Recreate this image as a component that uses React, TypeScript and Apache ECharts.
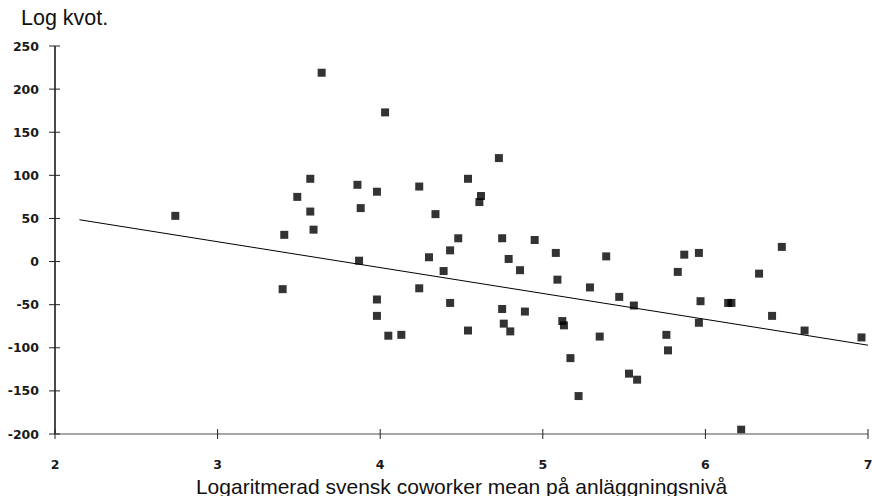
import React, { useEffect, useRef } from "react";
import * as echarts from "echarts";

const xValues = [
  2.74, 3.41, 3.40, 3.49, 3.64, 4.03, 4.73, 3.57, 3.86, 3.98, 4.24, 4.54, 4.62, 4.61,
  3.57, 3.88, 4.34, 3.59, 4.48, 4.75, 4.95, 3.87, 4.30, 4.43, 4.39, 4.79, 4.86, 5.08,
  5.09, 3.98, 3.98, 4.24, 4.43, 4.05, 4.13, 4.54, 4.75, 4.89, 4.76, 4.80, 5.12, 5.13,
  5.17, 5.22, 5.39, 5.29, 5.47, 5.56, 5.35, 5.53, 5.58, 5.87, 5.96, 5.83, 5.97, 5.96,
  5.76, 5.77, 6.14, 6.16, 6.33, 6.47, 6.41, 6.61, 6.96, 6.22,
];
const yValues = [
  53, 31, -32, 75, 219, 173, 120, 96, 89, 81, 87, 96, 76, 69,
  58, 62, 55, 37, 27, 27, 25, 1, 5, 13, -11, 3, -10, 10,
  -21, -44, -63, -31, -48, -86, -85, -80, -55, -58, -72, -81, -69, -74,
  -112, -156, 6, -30, -41, -51, -87, -130, -137, 8, 10, -12, -46, -71,
  -85, -103, -48, -48, -14, 17, -63, -80, -88, -195,
];
const trendX = [2.15, 7];
const trendY = [48.5, -97];
const xTicks = [2, 3, 4, 5, 6, 7];
const yTicks = [-200, -150, -100, -50, 0, 50, 100, 150, 200, 250];

const xTitle = "Logaritmerad svensk coworker mean på anläggningsnivå";
const yTitle = "Log kvot.";

export default function App() {
  const ref = useRef<HTMLDivElement>(null);
  useEffect(() => {
    if (!ref.current) return;
    const chart = echarts.init(ref.current, null, { renderer: "svg" });
    const labelStyle = {
      fontFamily: "DejaVu Sans",
      fontWeight: "bold",
      fontSize: 12.5,
      color: "#1a1a1a",
    };
    const xMin = xTicks[0];
    const xMax = xTicks[xTicks.length - 1];
    const yMin = yTicks[0];
    const yMax = yTicks[yTicks.length - 1];
    chart.setOption({
      animation: false,
      grid: { left: 55, right: 4, top: 46, bottom: 62, outerBoundsMode: "none" },
      xAxis: {
        type: "value",
        min: xMin,
        max: xMax,
        interval: 1,
        splitLine: { show: false },
        axisLine: { show: false, onZero: false },
        axisTick: { show: false },
        axisLabel: { ...labelStyle, margin: 24 },
        name: xTitle,
        nameLocation: "middle",
        nameGap: 37,
        nameTextStyle: { fontFamily: "Liberation Sans", fontSize: 21, color: "#111" },
      },
      yAxis: {
        type: "value",
        min: yMin,
        max: yMax,
        interval: 50,
        splitLine: { show: false },
        axisLine: { show: false, onZero: false },
        axisTick: { show: false },
        axisLabel: { ...labelStyle, margin: 16 },
      },
      series: [
        {
          type: "line",
          data: trendX.map((x, i) => [x, trendY[i]]),
          showSymbol: false,
          symbol: "none",
          lineStyle: { color: "#000", width: 1 },
        },
        {
          type: "scatter",
          data: xValues.map((x, i) => [x, yValues[i]]),
          symbol: "rect",
          symbolSize: 8,
          itemStyle: { color: "#000" },
        },
      ],
    });

    // axis lines and crossing ticks, positioned through the chart's own scales
    const px = (x: number, y: number) => chart.convertToPixel({ gridIndex: 0 }, [x, y]) as number[];
    const graphics: any[] = [
      {
        type: "text",
        left: 21,
        top: 7,
        style: { text: yTitle, fontFamily: "Liberation Sans", fontSize: 21.5, fill: "#111" },
      },
    ];
    const bl = px(xMin, yMin);
    const br = px(xMax, yMin);
    const tl = px(xMin, yMax);
    graphics.push({
      type: "rect",
      z: 50,
      shape: { x: bl[0], y: bl[1] - 0.7, width: br[0] - bl[0], height: 1.4 },
      style: { fill: "#8a8a8a" },
    });
    graphics.push({
      type: "rect",
      z: 50,
      shape: { x: tl[0] - 1, y: tl[1], width: 2, height: bl[1] - tl[1] },
      style: { fill: "#4a4a4a" },
    });
    xTicks.forEach((v) => {
      const p = px(v, yMin);
      graphics.push({
        type: "rect",
        z: 51,
        shape: { x: p[0] - 0.5, y: p[1] - 5, width: 1, height: 10 },
        style: { fill: "#222" },
      });
    });
    yTicks.forEach((v) => {
      const p = px(xMin, v);
      graphics.push({
        type: "rect",
        z: 51,
        shape: { x: p[0] - 6, y: p[1] - 0.5, width: 11, height: 1 },
        style: { fill: "#222" },
      });
    });
    chart.setOption({ graphic: graphics });
    return () => chart.dispose();
  }, []);
  return <div ref={ref} style={{ position: "fixed", left: 0, top: 0, width: 872, height: 496, background: "#fff" }} />;
}
